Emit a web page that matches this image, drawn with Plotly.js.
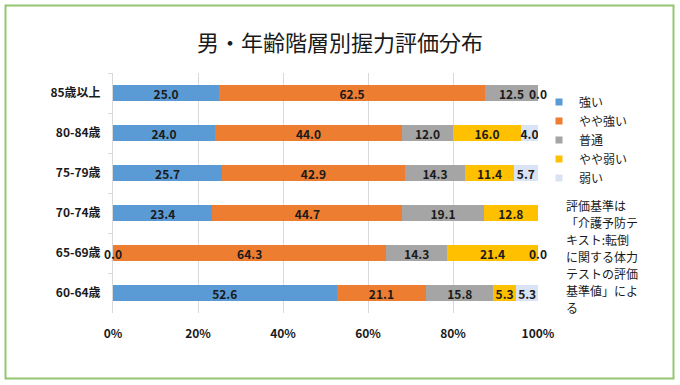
<!DOCTYPE html>
<html>
<head>
<meta charset="utf-8">
<script src="https://cdn.plot.ly/plotly-3.0.1.min.js"></script>
<style>
  html, body { margin: 0; padding: 0; background: #ffffff; }
  #chart { width: 680px; height: 385px; }
</style>
</head>
<body>
<div id="chart"></div>
<script>
// ---- data ----
const categories = ["85歳以上", "80-84歳", "75-79歳", "70-74歳", "65-69歳", "60-64歳"];
const seriesNames = ["強い", "やや強い", "普通", "やや弱い", "弱い"];
const strong      = [25.0, 24.0, 25.7, 23.4, 0.0, 52.6];
const fairStrong  = [62.5, 44.0, 42.9, 44.7, 64.3, 21.1];
const normal      = [12.5, 12.0, 14.3, 19.1, 14.3, 15.8];
const fairWeak    = [null, 16.0, 11.4, 12.8, 21.4, 5.3];
const weak        = [0.0, 4.0, 5.7, null, 0.0, 5.3];
const xTickVals   = [0, 20, 40, 60, 80, 100];
const xTickText   = ["0%", "20%", "40%", "60%", "80%", "100%"];
const noteLines   = ["評価基準は", "「介護予防テ", "キスト:転倒", "に関する体力", "テストの評価", "基準値」によ", "る"];
const titleText   = "男・年齢階層別握力評価分布";

// ---- styles ----
const seriesValues = [strong, fairStrong, normal, fairWeak, weak];
const colors = ["#5B9BD5", "#ED7D31", "#A5A5A5", "#FFC000", "#DAE3F3"];
const FONT = "'Noto Sans CJK JP', 'Noto Sans', sans-serif";
const TXT = "#1a1a1a";
const W = 680, H = 385;
const M = { l: 113, r: 142, t: 73, b: 72 };
const PW = W - M.l - M.r, PH = H - M.t - M.b;
const labelFont = { family: FONT, size: 12, color: TXT, weight: "bold" };

const traces = seriesValues.map((vals, i) => ({
  type: "bar",
  orientation: "h",
  name: seriesNames[i],
  legendgroup: seriesNames[i],
  showlegend: false,
  y: categories,
  x: vals,
  marker: { color: colors[i] },
  text: vals.map(v => (v === null || v === 0) ? "" : v.toFixed(1)),
  textposition: "inside",
  insidetextanchor: "middle",
  textangle: 0,
  constraintext: "none",
  textfont: labelFont,
  insidetextfont: labelFont,
  hoverinfo: "x+y+name"
}));

// legend entries (small square keys like the reference)
seriesNames.forEach((name, i) => {
  traces.push({
    type: "scatter", mode: "markers",
    name: name, legendgroup: name,
    x: [null], y: [null],
    marker: { symbol: "square", size: 7, color: colors[i] },
    showlegend: true, hoverinfo: "skip"
  });
});

// zero-valued segments get their "0.0" label at their (zero-width) position
const annotations = [];
categories.forEach((cat, ci) => {
  let cum = 0;
  seriesValues.forEach(vals => {
    const v = vals[ci];
    if (v === 0) {
      annotations.push({
        x: cum, y: cat, xref: "x", yref: "y",
        text: "0.0", showarrow: false,
        font: labelFont, xanchor: "center", yanchor: "middle"
      });
    }
    if (v !== null) cum += v;
  });
});

const px2x = px => (px - M.l) / PW;
const py2y = py => (H - M.b - py) / PH;

noteLines.forEach((line, i) => {
  annotations.push({
    xref: "paper", yref: "paper",
    x: px2x(564), y: py2y(205 + i * 17),
    xanchor: "left", yanchor: "middle", align: "left",
    showarrow: false,
    text: line,
    font: { family: FONT, size: 12, color: TXT }
  });
});

// chart border (green frame)
const shapes = [{
  type: "rect", xref: "paper", yref: "paper",
  x0: px2x(5.5), x1: px2x(673.5), y0: py2y(378.5), y1: py2y(5.5),
  line: { color: "#94C571", width: 2 },
  fillcolor: "rgba(0,0,0,0)", layer: "above"
}];

const layout = {
  width: W, height: H,
  margin: M,
  paper_bgcolor: "#ffffff",
  plot_bgcolor: "#ffffff",
  font: { family: FONT, color: TXT },
  barmode: "stack",
  bargap: 0.59,
  title: {
    text: titleText,
    font: { family: FONT, size: 22, color: "#1a1a1a" },
    xref: "container", x: 0.5, xanchor: "center",
    yref: "container", y: 1 - 43 / H, yanchor: "middle"
  },
  xaxis: {
    range: [0, 100],
    tickvals: xTickVals,
    ticktext: xTickText,
    showgrid: true, gridcolor: "#d9d9d9", gridwidth: 1,
    zeroline: false, showline: false,
    ticks: "",
    ticklabelstandoff: 12,
    tickfont: { family: FONT, size: 12, color: TXT, weight: "bold" },
    fixedrange: true
  },
  yaxis: {
    type: "category",
    categoryorder: "array",
    categoryarray: categories,
    autorange: "reversed",
    showgrid: false, zeroline: false,
    showline: true, linecolor: "#d9d9d9", linewidth: 1,
    ticks: "outside", tickson: "boundaries", ticklen: 4, tickcolor: "#d9d9d9",
    ticklabelstandoff: 9,
    tickfont: { family: FONT, size: 12, color: TXT, weight: "bold" },
    fixedrange: true
  },
  legend: {
    xref: "container", yref: "container",
    x: 539 / W, y: 1 - 87.5 / H,
    xanchor: "left", yanchor: "top",
    traceorder: "normal",
    font: { family: FONT, size: 12, color: TXT },
    bgcolor: "rgba(0,0,0,0)",
    tracegroupgap: 0
  },
  annotations: annotations,
  shapes: shapes,
  showlegend: true
};

Plotly.newPlot("chart", traces, layout, { displayModeBar: false, staticPlot: true });
</script>
</body>
</html>
